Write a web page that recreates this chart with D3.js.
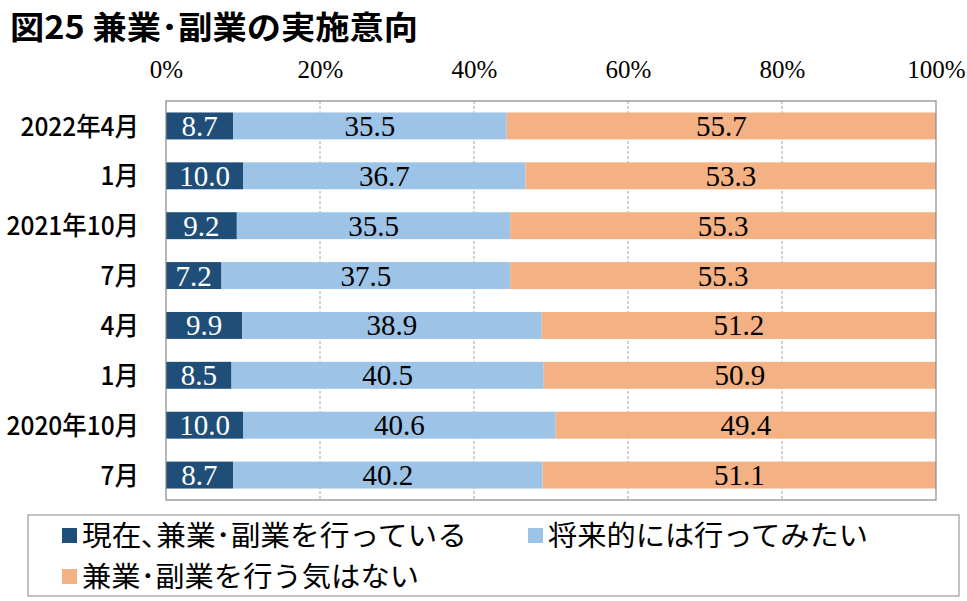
<!DOCTYPE html>
<html><head><meta charset="utf-8">
<script src="https://cdn.jsdelivr.net/npm/d3@7"></script>
<style>
html,body{margin:0;padding:0;background:#fff;}
</style>
</head><body>
<svg id="chart" width="967" height="601"></svg>
<script>
const title = "図25 兼業･副業の実施意向";
const categories = ["2022年4月","1月","2021年10月","7月","4月","1月","2020年10月","7月"];
const seriesNames = ["現在､兼業･副業を行っている","将来的には行ってみたい","兼業･副業を行う気はない"];
const doingNow   = [8.7, 10.0, 9.2, 7.2, 9.9, 8.5, 10.0, 8.7];
const wantFuture = [35.5, 36.7, 35.5, 37.5, 38.9, 40.5, 40.6, 40.2];
const noIntent   = [55.7, 53.3, 55.3, 55.3, 51.2, 50.9, 49.4, 51.1];
const tickValues = [0, 0.2, 0.4, 0.6, 0.8, 1.0];
const colors = ["#1F4E79", "#9DC3E6", "#F4B183"];

const svg = d3.select("#chart");
const M = {left:166, right:936, top:101, bottom:500};
const keys = ["a","b","c"];
const rows = categories.map((c,i)=>({id:i, cat:c, a:doingNow[i], b:wantFuture[i], c:noIntent[i]}));

const x = d3.scaleLinear().domain([0,1]).range([M.left, M.right]);
const y = d3.scaleBand().domain(rows.map(d=>d.id)).range([M.top, M.bottom]).paddingInner(0.46).paddingOuter(0.23);

// title
svg.append("text").attr("x",10).attr("y",39)
  .attr("font-family","'Noto Sans CJK JP'").attr("font-weight",700).attr("font-size",32)
  .attr("textLength",408).attr("lengthAdjust","spacingAndGlyphs")
  .attr("fill","#000").text(title);

// grid
svg.append("g").selectAll("line").data(tickValues.slice(1,-1)).join("line")
  .attr("x1",d=>x(d)).attr("x2",d=>x(d)).attr("y1",M.top).attr("y2",M.bottom)
  .attr("stroke","#a6a6a6").attr("stroke-dasharray","3,2").attr("stroke-width",1);

// top axis
const axis = d3.axisTop(x).tickValues(tickValues).tickFormat(d3.format(".0%")).tickSize(0).tickPadding(0);
const ax = svg.append("g").attr("transform",`translate(0,78)`).call(axis);
ax.select(".domain").remove();
ax.selectAll("text").attr("font-family","'Liberation Serif'").attr("font-size",25).attr("fill","#000").attr("dy",0);

// stack
const stack = d3.stack().keys(keys).offset(d3.stackOffsetExpand);
const series = stack(rows);

const g = svg.append("g");
series.forEach((s,si)=>{
  g.append("g").selectAll("rect").data(s).join("rect")
    .attr("x",d=>x(d[0])).attr("width",d=>x(d[1])-x(d[0]))
    .attr("y",d=>y(d.data.id)).attr("height",y.bandwidth())
    .attr("fill",colors[si]);
});
series.forEach((s,si)=>{
  g.append("g").selectAll("text").data(s).join("text")
    .attr("x",d=>(x(d[0])+x(d[1]))/2)
    .attr("y",d=>y(d.data.id)+y.bandwidth()/2+10)
    .attr("text-anchor","middle")
    .attr("font-family","'Liberation Serif'").attr("font-size",29)
    .attr("fill", si===0 ? "#fff" : "#000")
    .text(d=>d.data[keys[si]].toFixed(1));
});

// plot border
svg.append("rect").attr("x",M.left).attr("y",M.top).attr("width",M.right-M.left).attr("height",M.bottom-M.top)
  .attr("fill","none").attr("stroke","#878787").attr("stroke-width",1.2);

// category labels
svg.append("g").selectAll("text").data(rows).join("text")
  .attr("x",139).attr("y",d=>y(d.id)+y.bandwidth()/2)
  .attr("dy","0.37em").attr("text-anchor","end")
  .attr("font-family","'Noto Sans CJK JP'").attr("font-weight",500).attr("font-size",26).attr("fill","#000")
  .text(d=>d.cat)
  .each(function(){
    const w = this.getComputedTextLength();
    d3.select(this).attr("textLength", w*0.94).attr("lengthAdjust","spacingAndGlyphs");
  });

// legend
svg.append("rect").attr("x",28).attr("y",515).attr("width",931).attr("height",81)
  .attr("fill","#fff").attr("stroke","#9a9a9a").attr("stroke-width",1.2);
const legPos = [{x:62,y:528,w:385},{x:528,y:528,w:320},{x:62,y:569,w:337}];
seriesNames.forEach((n,i)=>{
  const p = legPos[i];
  svg.append("rect").attr("x",p.x).attr("y",p.y).attr("width",15).attr("height",15).attr("fill",colors[i]);
  svg.append("text").attr("x",p.x+20).attr("y",p.y+7.5).attr("dy","0.37em")
    .attr("font-family","'Noto Sans CJK JP'").attr("font-size",28).attr("fill","#000")
    .attr("textLength",p.w).attr("lengthAdjust","spacingAndGlyphs").text(n);
});
</script>
</body></html>
